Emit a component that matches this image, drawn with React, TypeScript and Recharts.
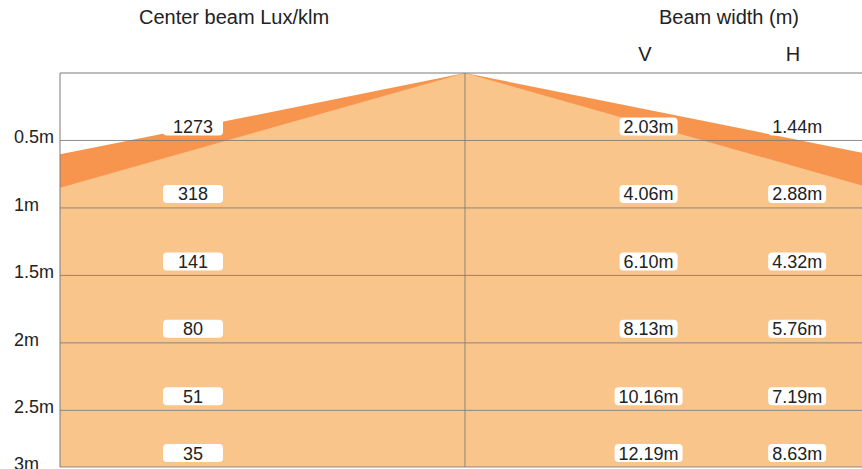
import React from "react";
import { ComposedChart, Area, XAxis, YAxis, ReferenceLine, Scatter } from "recharts";

const distances = [0.5, 1, 1.5, 2, 2.5, 3];
const distanceLabels = ["0.5m", "1m", "1.5m", "2m", "2.5m", "3m"];
const luxValues = [1273, 318, 141, 80, 51, 35];
const widthV = [2.03, 4.06, 6.1, 8.13, 10.16, 12.19];
const widthH = [1.44, 2.88, 4.32, 5.76, 7.19, 8.63];

const FONT = "'Liberation Sans', Arial, sans-serif";
const DARK = "#F7954F";
const LIGHT = "#FAC58A";
const GRID = "#7a7a7a";

// plot window (metres): horizontal spread vs distance from the lamp
const X_MIN = -1.224;
const X_MAX = 1.2;
const Y_MAX = 2.92;

// column centres for the value boxes, in plot x units
const LUX_COL = -0.822;
const V_COL = 0.555;
const H_COL = 1.004;

type Pt = { x: number; v?: number; h?: number };
const cone: Pt[] = [{ x: 0, v: 0, h: 0 }];
distances.forEach((d, i) => {
  cone.push({ x: -widthV[i] / 2, v: d }, { x: widthV[i] / 2, v: d });
  cone.push({ x: -widthH[i] / 2, h: d }, { x: widthH[i] / 2, h: d });
});
cone.sort((a, b) => a.x - b.x);

const rowPos = distances.map((d) => Math.min(d, Y_MAX));

const luxLabels = luxValues.map((v, i) => ({ x: LUX_COL, d: rowPos[i], text: String(v), fixed: true }));
const vLabels = widthV.map((v, i) => ({ x: V_COL, d: rowPos[i], text: v.toFixed(2) + "m" }));
const hLabels = widthH.map((v, i) => ({ x: H_COL, d: rowPos[i], text: v.toFixed(2) + "m" }));

const LabelBox = (props: any) => {
  const { cx, cy, payload } = props;
  const w = payload.fixed ? 60 : payload.text.length * 10 + 8;
  const y = cy - 14;
  return (
    <g>
      <rect x={cx - w / 2} y={y - 9} width={w} height={18} rx={4} fill="#fff" />
      <text x={cx} y={y + 6.5} textAnchor="middle" fontSize={18} fontFamily={FONT} fill="#222">
        {payload.text}
      </text>
    </g>
  );
};

const DistTick = (props: any) => {
  const { y, index } = props;
  return (
    <text x={14} y={y + 3} fontSize={18} fontFamily={FONT} fill="#222">
      {distanceLabels[index]}
    </text>
  );
};

const header = (x: number, y: number): React.CSSProperties => ({
  position: "absolute",
  left: x,
  top: y,
  transform: "translateX(-50%)",
  fontFamily: FONT,
  fontSize: 20,
  color: "#222",
  whiteSpace: "nowrap",
});

export default function App() {
  return (
    <div style={{ position: "absolute", left: 0, top: 0, width: 862, height: 469, background: "#fff" }}>
      <ComposedChart
        width={862}
        height={469}
        data={cone}
        margin={{ top: 73, right: 0, bottom: 2, left: 0 }}
      >
        <XAxis dataKey="x" type="number" domain={[X_MIN, X_MAX]} allowDataOverflow hide />
        <YAxis
          type="number"
          reversed
          domain={[0, Y_MAX]}
          allowDataOverflow
          ticks={rowPos}
          interval={0}
          width={60}
          tickLine={false}
          axisLine={{ stroke: GRID }}
          tick={<DistTick />}
        />
        <Area
          dataKey="v"
          type="linear"
          connectNulls
          baseValue="dataMax"
          stroke="none"
          fill={DARK}
          fillOpacity={1}
          isAnimationActive={false}
        />
        <Area
          dataKey="h"
          type="linear"
          connectNulls
          baseValue="dataMax"
          stroke="none"
          fill={LIGHT}
          fillOpacity={1}
          isAnimationActive={false}
        />
        <ReferenceLine y={0} stroke={GRID} />
        {rowPos.map((d) => (
          <ReferenceLine key={d} y={d} stroke={GRID} strokeOpacity={0.85} />
        ))}
        <ReferenceLine x={0} stroke={GRID} strokeOpacity={0.85} />
        <Scatter data={luxLabels} dataKey="d" shape={<LabelBox />} isAnimationActive={false} />
        <Scatter data={vLabels} dataKey="d" shape={<LabelBox />} isAnimationActive={false} />
        <Scatter data={hLabels} dataKey="d" shape={<LabelBox />} isAnimationActive={false} />
      </ComposedChart>
      <div style={header(234, 6)}>Center beam Lux/klm</div>
      <div style={header(729, 6)}>Beam width (m)</div>
      <div style={header(645, 43)}>V</div>
      <div style={header(793, 43)}>H</div>
    </div>
  );
}
